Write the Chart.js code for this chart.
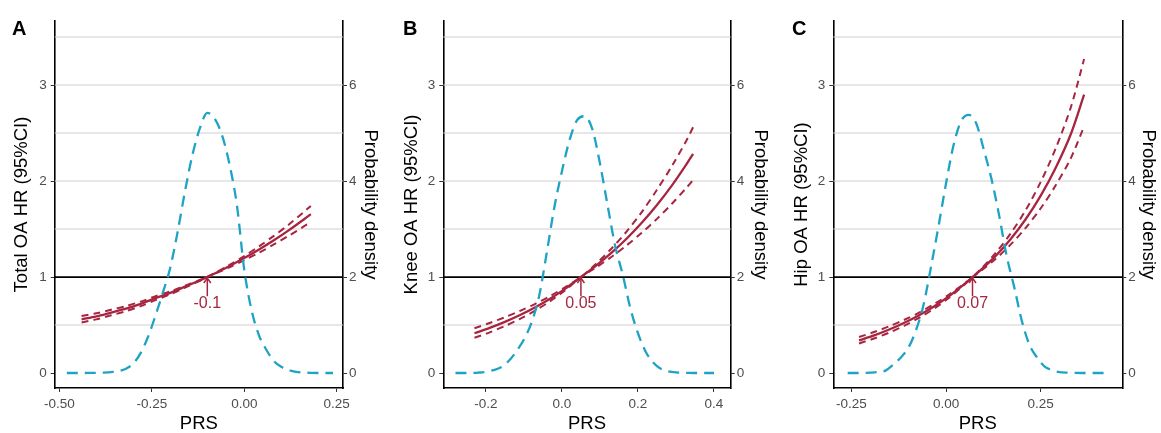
<!DOCTYPE html>
<html>
<head>
<meta charset="utf-8">
<script src="https://cdn.jsdelivr.net/npm/chart.js@4.4.0/dist/chart.umd.min.js"></script>
<style>
  body { margin: 0; background: #fff; width: 1161px; height: 433px; overflow: hidden; position: relative; font-family: "Liberation Sans", Arial, sans-serif; }
  .panel { position: absolute; top: 0; height: 433px; }
  .tag { position: absolute; top: 18px; font-weight: bold; font-size: 20px; line-height: 1; color: #000; }
</style>
</head>
<body>
<div class="panel" style="left:0;width:390px"><canvas id="chartA"></canvas></div>
<div class="panel" style="left:390px;width:390px"><canvas id="chartB"></canvas></div>
<div class="panel" style="left:780px;width:381px"><canvas id="chartC"></canvas></div>
<div class="tag" style="left:12px">A</div>
<div class="tag" style="left:403px">B</div>
<div class="tag" style="left:792px">C</div>
<script>
// shared axes
const hrTicks = [0, 1, 2, 3];
const hrTickLabels = ['0', '1', '2', '3'];
const densTicks = [0, 2, 4, 6];
const densTickLabels = ['0', '2', '4', '6'];
const gridHR = [0.5, 1.5, 2, 2.5, 3, 3.5];

// A - total OA
const prsA = [-0.44, -0.40, -0.36, -0.32, -0.28, -0.24, -0.20, -0.16, -0.12, -0.10, -0.08, -0.04, 0.00, 0.04, 0.08, 0.12, 0.16, 0.18];
const hrA = [0.56, 0.59, 0.63, 0.67, 0.72, 0.78, 0.835, 0.90, 0.965, 1.00, 1.037, 1.114, 1.197, 1.287, 1.383, 1.486, 1.597, 1.655];
const hrHiA = [0.595, 0.622, 0.66, 0.697, 0.744, 0.80, 0.85, 0.91, 0.969, 1.00, 1.041, 1.126, 1.219, 1.32, 1.429, 1.545, 1.674, 1.741];
const hrLoA = [0.527, 0.559, 0.601, 0.644, 0.697, 0.76, 0.82, 0.89, 0.961, 1.00, 1.033, 1.102, 1.176, 1.254, 1.339, 1.429, 1.524, 1.573];
const densPrsA = [-0.48, -0.46, -0.44, -0.42, -0.40, -0.38, -0.36, -0.34, -0.32, -0.30, -0.28, -0.26, -0.24, -0.22, -0.20, -0.18, -0.16, -0.14, -0.12, -0.10, -0.08, -0.06, -0.04, -0.02, 0.00, 0.02, 0.04, 0.06, 0.08, 0.10, 0.12, 0.14, 0.16, 0.18, 0.20, 0.22, 0.24];
const densA = [0, 0, 0, 0.002, 0.005, 0.01, 0.02, 0.04, 0.09, 0.2, 0.42, 0.76, 1.2, 1.68, 2.2, 2.95, 3.8, 4.55, 5.1, 5.42, 5.3, 4.95, 4.35, 3.5, 2.15, 1.3, 0.78, 0.48, 0.25, 0.13, 0.06, 0.025, 0.01, 0.004, 0.001, 0, 0];
const xTicksA = [-0.5, -0.25, 0, 0.25];
const xLabelsA = ['-0.50', '-0.25', '0.00', '0.25'];

// B - knee OA
const prsB = [-0.23, -0.19, -0.15, -0.11, -0.07, -0.03, 0.01, 0.05, 0.09, 0.13, 0.17, 0.21, 0.25, 0.29, 0.33, 0.345];
const hrB = [0.414, 0.470, 0.533, 0.604, 0.685, 0.777, 0.882, 1.00, 1.119, 1.251, 1.399, 1.565, 1.751, 1.958, 2.19, 2.284];
const hrHiB = [0.467, 0.521, 0.581, 0.647, 0.721, 0.804, 0.897, 1.00, 1.138, 1.295, 1.473, 1.676, 1.909, 2.16, 2.44, 2.56];
const hrLoB = [0.367, 0.424, 0.489, 0.564, 0.651, 0.751, 0.867, 1.00, 1.10, 1.209, 1.329, 1.461, 1.606, 1.766, 1.941, 2.012];
const densPrsB = [-0.28, -0.26, -0.24, -0.22, -0.20, -0.18, -0.16, -0.14, -0.12, -0.10, -0.08, -0.06, -0.04, -0.02, 0.00, 0.02, 0.04, 0.06, 0.08, 0.10, 0.12, 0.14, 0.16, 0.18, 0.20, 0.22, 0.24, 0.26, 0.28, 0.30, 0.32, 0.34, 0.36, 0.38, 0.40];
const densB = [0, 0, 0.003, 0.01, 0.025, 0.06, 0.12, 0.25, 0.45, 0.7, 1.05, 1.6, 2.5, 3.45, 4.2, 4.85, 5.27, 5.35, 5.08, 4.37, 3.5, 2.65, 2.05, 1.35, 0.83, 0.45, 0.22, 0.09, 0.035, 0.012, 0.004, 0.001, 0, 0, 0];
const xTicksB = [-0.2, 0, 0.2, 0.4];
const xLabelsB = ['-0.2', '0.0', '0.2', '0.4'];

// C - hip OA
const prsC = [-0.23, -0.19, -0.15, -0.11, -0.07, -0.03, 0.01, 0.05, 0.07, 0.09, 0.13, 0.17, 0.21, 0.25, 0.29, 0.33, 0.365];
const hrC = [0.340, 0.392, 0.453, 0.523, 0.604, 0.698, 0.806, 0.931, 1.00, 1.066, 1.215, 1.391, 1.599, 1.846, 2.139, 2.49, 2.90];
const hrHiC = [0.375, 0.427, 0.487, 0.555, 0.632, 0.722, 0.822, 0.937, 1.00, 1.075, 1.245, 1.449, 1.693, 1.988, 2.34, 2.769, 3.27];
const hrLoC = [0.308, 0.360, 0.421, 0.493, 0.577, 0.675, 0.790, 0.925, 1.00, 1.058, 1.185, 1.335, 1.51, 1.714, 1.955, 2.239, 2.569];
const densPrsC = [-0.26, -0.24, -0.22, -0.20, -0.18, -0.16, -0.14, -0.12, -0.10, -0.08, -0.06, -0.04, -0.02, 0.00, 0.02, 0.04, 0.06, 0.08, 0.10, 0.12, 0.14, 0.16, 0.18, 0.20, 0.22, 0.24, 0.26, 0.28, 0.30, 0.32, 0.34, 0.36, 0.38, 0.40, 0.42];
const densC = [0, 0, 0.002, 0.008, 0.02, 0.05, 0.17, 0.32, 0.52, 0.88, 1.4, 2.2, 3.05, 3.95, 4.75, 5.25, 5.38, 5.2, 4.65, 4.05, 3.3, 2.45, 1.8, 1.1, 0.6, 0.33, 0.14, 0.06, 0.02, 0.008, 0.002, 0, 0, 0, 0];
const xTicksC = [-0.25, 0, 0.25];
const xLabelsC = ['-0.25', '0.00', '0.25'];

const RED = '#a82540';
const BLUE = '#1ea3c4';
const FONT = '"Liberation Sans", Arial, sans-serif';
const hrMin = -0.156, hrMax = 3.667;

const decor = {
  id: 'decor',
  beforeDatasetsDraw(chart) {
    const { ctx, chartArea: a, scales: { y } } = chart;
    ctx.save();
    ctx.strokeStyle = '#cfcfcf';
    ctx.lineWidth = 1.1;
    gridHR.forEach((v) => {
      const py = y.getPixelForValue(v);
      ctx.beginPath(); ctx.moveTo(a.left, py); ctx.lineTo(a.right, py); ctx.stroke();
    });
    const p1 = y.getPixelForValue(1);
    ctx.strokeStyle = '#000';
    ctx.lineWidth = 1.7;
    ctx.beginPath(); ctx.moveTo(a.left, p1); ctx.lineTo(a.right, p1); ctx.stroke();
    ctx.restore();
  },
  afterDatasetsDraw(chart, args, opts) {
    const { ctx, scales: { x, y } } = chart;
    const px = x.getPixelForValue(opts.ref);
    const top = y.getPixelForValue(1);
    const tail = y.getPixelForValue(0.8);
    ctx.save();
    ctx.strokeStyle = RED;
    ctx.lineWidth = 1.5;
    ctx.beginPath(); ctx.moveTo(px, tail); ctx.lineTo(px, top + 1); ctx.stroke();
    ctx.beginPath(); ctx.moveTo(px - 3.5, top + 6); ctx.lineTo(px, top + 1); ctx.lineTo(px + 3.5, top + 6); ctx.stroke();
    ctx.fillStyle = RED;
    ctx.font = '16px ' + FONT;
    ctx.textAlign = 'center';
    ctx.textBaseline = 'middle';
    ctx.fillText(opts.label, px, y.getPixelForValue(0.72));
    ctx.restore();
  }
};

function pts(xs, ys) {
  return xs.map((v, i) => ({ x: v, y: ys[i] }));
}

function makePanel(id, p) {
  new Chart(document.getElementById(id), {
    type: 'line',
    data: {
      datasets: [
        { data: pts(p.densX, p.dens), yAxisID: 'y1', borderColor: BLUE, borderWidth: 2.3, borderDash: [11, 7], cubicInterpolationMode: 'monotone', pointRadius: 0 },
        { data: pts(p.prs, p.hi), yAxisID: 'y', borderColor: RED, borderWidth: 2, borderDash: [7, 5], tension: 0.3, pointRadius: 0 },
        { data: pts(p.prs, p.lo), yAxisID: 'y', borderColor: RED, borderWidth: 2, borderDash: [7, 5], tension: 0.3, pointRadius: 0 },
        { data: pts(p.prs, p.hr), yAxisID: 'y', borderColor: RED, borderWidth: 2.3, tension: 0.3, pointRadius: 0 }
      ]
    },
    options: {
      responsive: true,
      maintainAspectRatio: false,
      animation: false,
      devicePixelRatio: 1,
      layout: { padding: { top: 21, left: 0, right: 0, bottom: 0 } },
      plugins: {
        legend: { display: false },
        tooltip: { enabled: false },
        decor: { ref: p.ref, label: p.refLabel }
      },
      scales: {
        x: {
          type: 'linear',
          min: p.xMin,
          max: p.xMax,
          afterFit(scale) { scale.height = 45; },
          afterBuildTicks(scale) { scale.ticks = p.xTicks.map((v) => ({ value: v })); },
          ticks: {
            callback(value, index) { return p.xLabels[index]; },
            color: '#4d4d4d',
            font: { family: FONT, size: 13.5 },
            padding: 4,
            maxRotation: 0
          },
          grid: { drawOnChartArea: false, drawTicks: true, tickLength: 4, color: '#333' },
          border: { display: true, color: '#000', width: 1.6 },
          title: { display: true, text: 'PRS', color: '#000', font: { family: FONT, size: 18.5, lineHeight: 1 }, padding: { top: 0, bottom: 0 } }
        },
        y: {
          position: 'left',
          min: hrMin,
          max: hrMax,
          afterFit(scale) { scale.width = p.leftW; },
          afterBuildTicks(scale) { scale.ticks = hrTicks.map((v) => ({ value: v })); },
          ticks: {
            callback(value, index) { return hrTickLabels[index]; },
            color: '#4d4d4d',
            font: { family: FONT, size: 13.5 },
            padding: 4
          },
          grid: { drawOnChartArea: false, drawTicks: true, tickLength: 4, color: '#333' },
          border: { display: true, color: '#000', width: 1.6 },
          title: { display: true, text: p.yTitle, color: '#000', font: { family: FONT, size: 18.5, lineHeight: 1.2 }, padding: { top: 10.5, bottom: 0 } }
        },
        y1: {
          position: 'right',
          min: hrMin * 2,
          max: hrMax * 2,
          afterFit(scale) { scale.width = p.rightW; },
          afterBuildTicks(scale) { scale.ticks = densTicks.map((v) => ({ value: v })); },
          ticks: {
            callback(value, index) { return densTickLabels[index]; },
            color: '#4d4d4d',
            font: { family: FONT, size: 13.5 },
            padding: 2
          },
          grid: { drawOnChartArea: false, drawTicks: true, tickLength: 4, color: '#333' },
          border: { display: true, color: '#000', width: 1.6 },
          title: { display: true, text: 'Probability density', color: '#000', font: { family: FONT, size: 18.5, lineHeight: 1.2 }, padding: { top: p.rightTitlePad, bottom: 0 } }
        }
      }
    },
    plugins: [decor]
  });
}

makePanel('chartA', {
  prs: prsA, hr: hrA, hi: hrHiA, lo: hrLoA, densX: densPrsA, dens: densA,
  xTicks: xTicksA, xLabels: xLabelsA, xMin: -0.5127, xMax: 0.267,
  ref: -0.1, refLabel: '-0.1', yTitle: 'Total OA HR (95%CI)',
  leftW: 54.7, rightW: 47, rightTitlePad: 9
});
makePanel('chartB', {
  prs: prsB, hr: hrB, hi: hrHiB, lo: hrLoB, densX: densPrsB, dens: densB,
  xTicks: xTicksB, xLabels: xLabelsB, xMin: -0.312, xMax: 0.444,
  ref: 0.05, refLabel: '0.05', yTitle: 'Knee OA HR (95%CI)',
  leftW: 53.3, rightW: 49.3, rightTitlePad: 9
});
makePanel('chartC', {
  prs: prsC, hr: hrC, hi: hrHiC, lo: hrLoC, densX: densPrsC, dens: densC,
  xTicks: xTicksC, xLabels: xLabelsC, xMin: -0.298, xMax: 0.466,
  ref: 0.07, refLabel: '0.07', yTitle: 'Hip OA HR (95%CI)',
  leftW: 53.3, rightW: 38.7, rightTitlePad: 1.6
});
</script>
</body>
</html>
